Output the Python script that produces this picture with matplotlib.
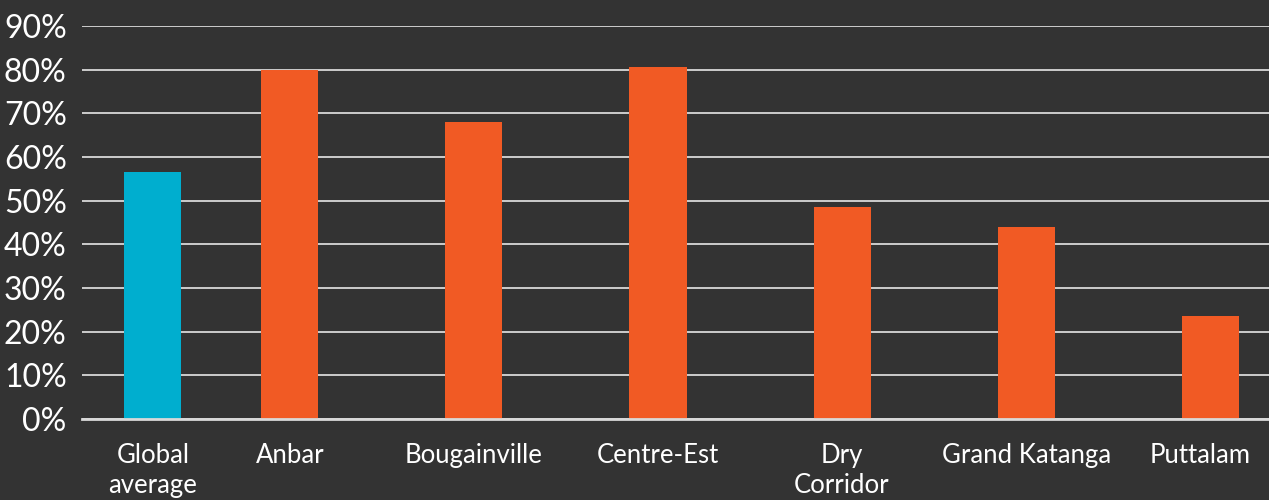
import matplotlib.pyplot as plt
import matplotlib.transforms as mtransforms
from matplotlib.ticker import PercentFormatter

labels = ['Global\naverage', 'Anbar', 'Bougainville', 'Centre-Est', 'Dry\nCorridor', 'Grand Katanga', 'Puttalam']
values = [0.566, 0.80, 0.68, 0.805, 0.485, 0.44, 0.236]
colors = ['#00AECF'] + ['#F15A24'] * 6
# the global average bar sits a little closer to the first region
xpos = [0.255, 1, 2, 3, 4, 5, 6]

bg = '#333333'
plt.rcParams['font.family'] = ['Lato', 'DejaVu Sans']

fig = plt.figure(figsize=(12.69, 5), dpi=100, facecolor=bg)
ax = fig.add_axes([0.0646, 0.162, 0.9354, 0.786])
ax.set_facecolor(bg)

ax.bar(xpos, values, width=0.31, color=colors, zorder=3)

ax.set_ylim(0, 0.9)
ax.set_xlim(-0.13, 6.32)
ax.set_yticks([i / 10 for i in range(10)])
ax.yaxis.set_major_formatter(PercentFormatter(1.0, decimals=0))
ax.set_xticks(xpos)
ax.set_xticklabels(labels, linespacing=1.25)

ax.grid(axis='y', color='#d9d9d9', lw=1.3, zorder=1)
ax.tick_params(axis='y', length=0, labelsize=23, labelcolor='white', pad=11)
ax.tick_params(axis='x', length=0, labelsize=18.5, labelcolor='white', pad=17)
for s in ['top', 'right', 'left']:
    ax.spines[s].set_visible(False)
ax.spines['bottom'].set_color('#d9d9d9')
ax.spines['bottom'].set_linewidth(2)
ax.spines['bottom'].set_zorder(4)

# last label is pulled in so it stays inside the frame
last = ax.get_xticklabels()[-1]
last.set_transform(last.get_transform() + mtransforms.ScaledTranslation(-0.1, 0, fig.dpi_scale_trans))

plt.savefig('out.png', facecolor=bg)
